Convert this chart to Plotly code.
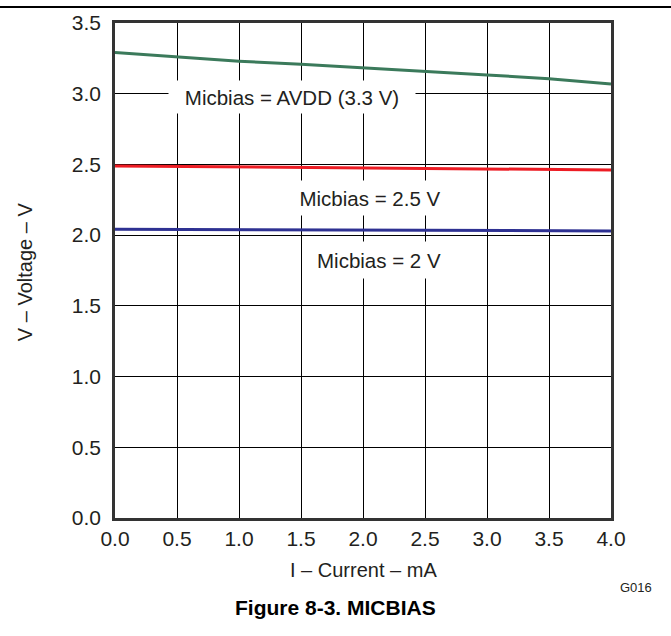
import plotly.graph_objects as go

# current (mA) and bias voltages (V)
current = [0.0, 0.5, 1.0, 1.5, 2.0, 2.5, 3.0, 3.5, 4.0]
v_avdd = [3.291, 3.262, 3.230, 3.209, 3.185, 3.156, 3.133, 3.105, 3.069]
v_2p5 = [2.489, 2.486, 2.482, 2.479, 2.476, 2.472, 2.468, 2.465, 2.461]
v_2 = [2.042, 2.040, 2.038, 2.036, 2.035, 2.034, 2.033, 2.031, 2.030]

x_ticks = [0.0, 0.5, 1.0, 1.5, 2.0, 2.5, 3.0, 3.5, 4.0]
y_ticks = [0.0, 0.5, 1.0, 1.5, 2.0, 2.5, 3.0, 3.5]

font = "Arial, Liberation Sans, sans-serif"
txt = "#231f20"

fig = go.Figure()
for v, col in [(v_avdd, "#3b7a5b"), (v_2p5, "#ed1c24"), (v_2, "#2e3192")]:
    fig.add_trace(go.Scatter(x=current, y=v, mode="lines",
                             line=dict(color=col, width=3), showlegend=False,
                             hoverinfo="skip"))

axis = dict(showgrid=True, gridcolor="black", gridwidth=1, zeroline=False,
            showline=True, linecolor="#333333", linewidth=2.5, mirror=True,
            automargin=False,
            ticks="", tickfont=dict(family=font, size=21, color=txt))

fig.update_layout(
    width=671, height=636,
    margin=dict(l=115, r=60, t=23, b=118),
    paper_bgcolor="white", plot_bgcolor="white",
    xaxis=dict(axis, range=[0, 4], tickvals=x_ticks,
               ticktext=[f"{t:.1f}" for t in x_ticks], ticklabelstandoff=0),
    yaxis=dict(axis, range=[0, 3.5], tickvals=y_ticks,
               ticktext=[f"{t:.1f}" for t in y_ticks], ticklabelstandoff=7),
)

# curve labels with white boxes hiding the grid
labels = [
    ("Micbias = AVDD (3.3 V)", 1.43, 2.977, 240, 26),
    ("Micbias = 2.5 V", 2.06, 2.263, 148, 28),
    ("Micbias = 2 V", 2.133, 1.824, 136, 30),
]
for text, x, y, w, h in labels:
    fig.add_annotation(x=x, y=y, xref="x", yref="y", text=text, showarrow=False,
                       xanchor="center", yanchor="middle",
                       font=dict(family=font, size=20.5, color=txt),
                       bgcolor="white", width=w, height=h, borderpad=3)

extra = [
    ("I – Current – mA", 0.5, -0.105, 0, 20, txt),
    ("V – Voltage – V", -0.1811, 0.497, -90, 20, txt),
    ("G016", 1.0503, -0.1394, 0, 13, txt),
    ("<b>Figure 8-3. MICBIAS</b>", 0.4437, -0.1798, 0, 21, "black"),
]
for text, x, y, ang, size, col in extra:
    fig.add_annotation(x=x, y=y, xref="paper", yref="paper", showarrow=False,
                       text=text, textangle=ang, xanchor="center",
                       yanchor="middle",
                       font=dict(family=font, size=size, color=col))

# rule across the top of the page
fig.add_shape(type="line", xref="paper", yref="paper",
              x0=-0.25, x1=1.13, y0=1.0323, y1=1.0323,
              line=dict(color="black", width=2))

# drop the default body margin so the figure sits at the page corner
fig.write_html("out.html", config={"displayModeBar": False},
               post_script="document.body.style.margin='0px';")
